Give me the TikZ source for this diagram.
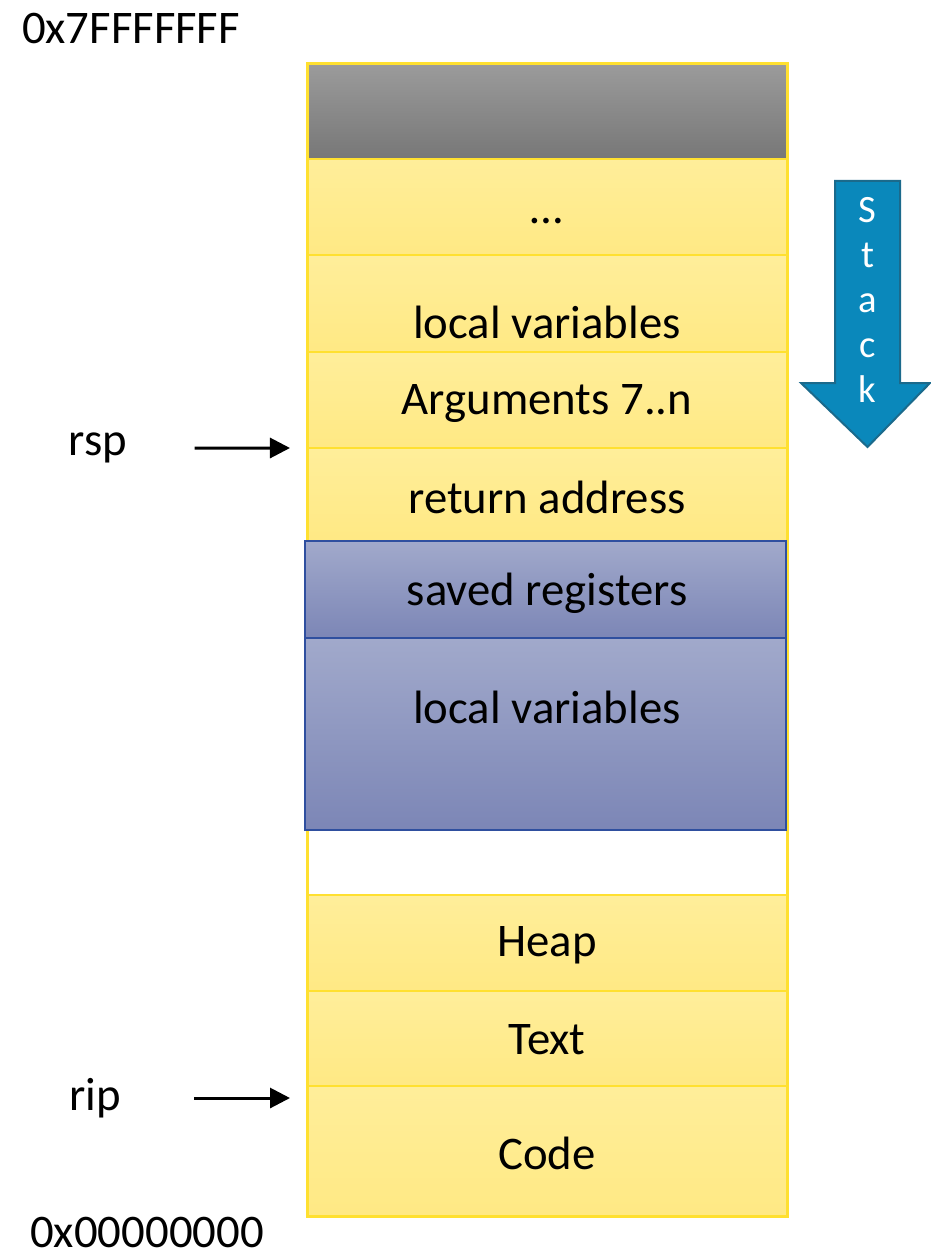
\documentclass[tikz,border=0pt]{standalone}
\usepackage{fontspec}
\setmainfont{Carlito}
\usetikzlibrary{arrows.meta, positioning}
\definecolor{cgold}{HTML}{FFE030}
\definecolor{cytop}{HTML}{FFEE9A}
\definecolor{cybot}{HTML}{FFE984}
\definecolor{cgtop}{HTML}{9B9B9B}
\definecolor{cgbot}{HTML}{777777}
\definecolor{cbtop}{HTML}{A1A9CB}
\definecolor{cbbot}{HTML}{7C86B6}
\definecolor{cbline}{HTML}{2F4F9F}
\definecolor{cstack}{HTML}{0A88BB}
\definecolor{cstackline}{HTML}{1B6A8C}
\tikzset{
  every picture/.style={font=\fontsize{26.6}{32}\selectfont},
  cell/.style={rectangle, inner sep=0pt, outer sep=0pt, minimum width=96mm, minimum height=#1},
  ycell/.style={cell=#1, draw=cgold, line width=0.5mm, top color=cytop, bottom color=cybot},
  gcell/.style={cell=#1, top color=cgtop, bottom color=cgbot},
  bcell/.style={cell=#1, draw=cbline, line width=0.3mm, top color=cbtop, bottom color=cbbot, minimum width=96.2mm},
  txt/.style={inner sep=0pt, align=center},
  ptr/.style={-{Triangle[length=4mm, width=4mm]}, line width=0.6mm},
  stackarrow/.style={fill=cstack, draw=cstackline, line width=0.4mm},
}

\begin{document}
\begin{tikzpicture}[x=0.2mm, y=-0.2mm]
  \useasboundingbox (0,0) rectangle (930,1259);
  % memory cells
  \node[gcell=19mm] (top) at (547,111.5) {};
  \node[ycell=19.2mm] (dots) at (547,207) {};
  \node[ycell=19.4mm] (lvone) at (547,303.5) {};
  \node[ycell=19.2mm] (args) at (547,400) {};
  \node[ycell=18.6mm] (ret) at (547,494.5) {};
  \node[ycell=19.2mm] (heap) at (547,943) {};
  \node[ycell=19mm] (text) at (547,1038.5) {};
  \node[ycell=26mm] (code) at (547,1151) {};
  \draw[cgold, line width=0.6mm] (307,64) rectangle (787,1216);
  \node[bcell=19.4mm] (saved) at (545.5,589.5) {};
  \node[bcell=38.4mm] (lvtwo) at (545.5,734) {};
  % cell texts
  \node[txt] (dotst) at (547,221) {…};
  \node[txt] (lvonet) at (547,322) {local variables};
  \node[txt] (argst) at (547,404) {Arguments 7..n};
  \node[txt] (rett) at (547,497) {return address};
  \node[txt] (savedt) at (547,593) {saved registers};
  \node[txt] (lvtwot) at (547,707) {local variables};
  \node[txt] (heapt) at (547,945) {Heap};
  \node[txt] (textt) at (547,1040) {Text};
  \node[txt] (codet) at (547,1153) {Code};
  % addresses and pointers
  \node[txt] (hiaddr) at (131,28) {0x7FFFFFFF};
  \node[txt] (loaddr) at (147,1232) {0x00000000};
  \node[txt] (rsp) at (98,448) {rsp};
  \node[txt] (rip) at (95,1098) {rip};
  \coordinate (rspat) at ([xshift=-3.4mm]ret.north west);
  \coordinate (ripat) at (290,1098);
  \draw[ptr, shorten <=13.4mm] (rsp) -- (rspat);
  \draw[ptr, shorten <=14.6mm] (rip) -- (ripat);
  % stack growth
  \draw[stackarrow] (835,181) -- (900,181) -- (900,383) -- (930,383) -- (867.5,447) -- (801,383) -- (835,383) -- cycle;
  \node[txt, text=white, font=\fontsize{22}{25.5}\selectfont] (stack) at (867.5,300) {S\\t\\a\\c\\k};
\end{tikzpicture}
\end{document}
